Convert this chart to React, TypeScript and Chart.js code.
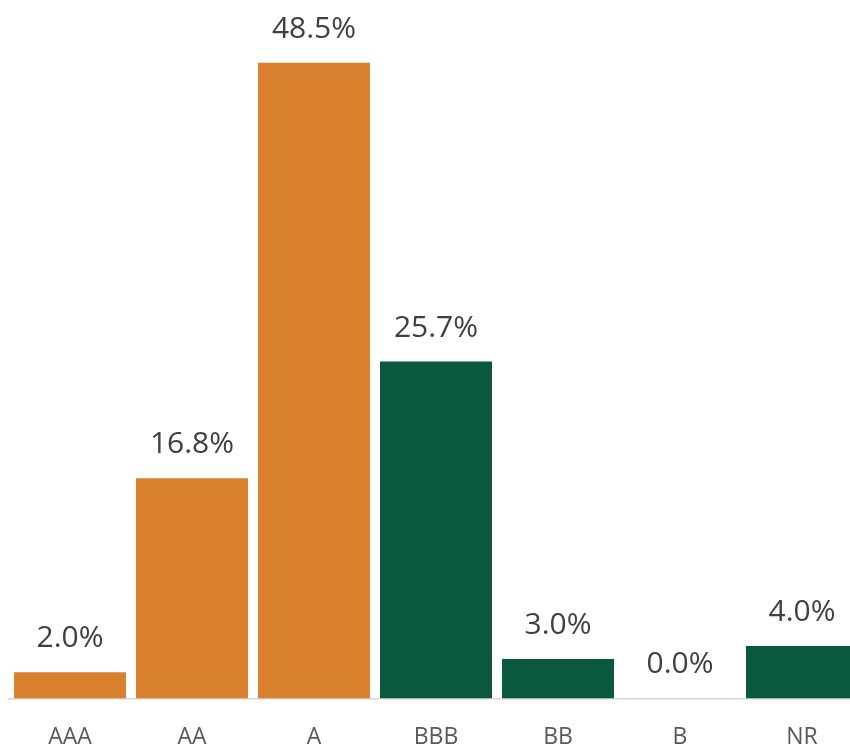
import React, { useEffect, useRef } from "react";
import { Chart, registerables } from "chart.js";

Chart.register(...registerables);

const categories = ["AAA", "AA", "A", "BBB", "BB", "B", "NR"];
const shares = [2.0, 16.8, 48.5, 25.7, 3.0, 0.0, 4.0];
const groupOf = ["ig", "ig", "ig", "hy", "hy", "hy", "hy"];

const ORANGE = "#DA812F";
const GREEN = "#0A583F";

const labelPlugin = {
  id: "valueLabels",
  afterDatasetsDraw(chart: any) {
    const ctx = chart.ctx;
    const meta = chart.getDatasetMeta(0);
    ctx.save();
    ctx.font = "30px 'Open Sans'";
    ctx.fillStyle = "#404040";
    ctx.textAlign = "center";
    ctx.textBaseline = "alphabetic";
    meta.data.forEach((bar: any, i: number) => {
      const v = shares[i];
      ctx.fillText(v.toFixed(1) + "%", bar.x, bar.y - 25);
    });
    ctx.restore();
  },
};

export default function App() {
  const ref = useRef<HTMLCanvasElement | null>(null);
  useEffect(() => {
    if (!ref.current) return;
    const chart = new Chart(ref.current, {
      type: "bar",
      data: {
        labels: categories,
        datasets: [
          {
            data: shares,
            backgroundColor: groupOf.map((g) => (g === "ig" ? ORANGE : GREEN)),
            categoryPercentage: 1,
            barPercentage: 0.918,
          },
        ],
      },
      options: {
        animation: false,
        responsive: false,
        devicePixelRatio: 1,
        layout: { padding: { left: 9, right: 7, top: 43, bottom: 0 } },
        plugins: { legend: { display: false }, tooltip: { enabled: false } },
        scales: {
          x: {
            grid: { display: false, drawTicks: false },
            border: { display: true, color: "#D6D6D6", width: 1.5 },
            ticks: {
              color: "#595959",
              font: { family: "'Open Sans'", size: 23 },
              padding: 25,
            },
          },
          y: {
            display: false,
            min: 0,
            max: 50,
          },
        },
      },
      plugins: [labelPlugin],
    });
    return () => chart.destroy();
  }, []);
  return (
    <div
      style={{
        position: "absolute",
        left: 0,
        top: 0,
        width: 850,
        height: 745,
        overflow: "hidden",
        background: "#fff",
      }}
    >
      <canvas ref={ref} width={870} height={776} style={{ display: "block" }} />
    </div>
  );
}
